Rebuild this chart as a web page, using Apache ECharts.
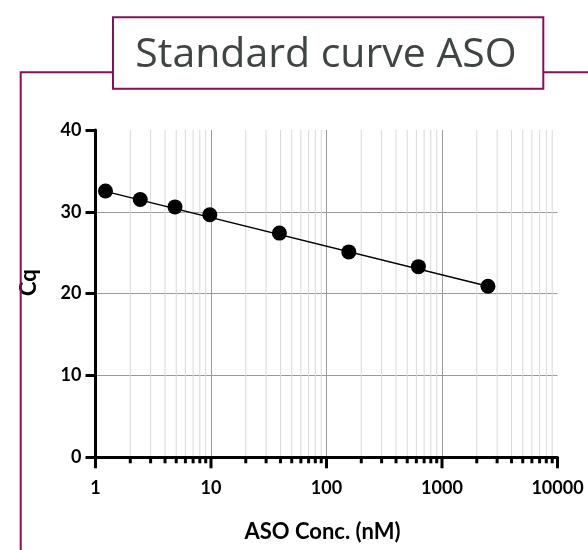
<!DOCTYPE html>
<html>
<head>
<meta charset="utf-8">
<script src="https://cdn.jsdelivr.net/npm/echarts@6/dist/echarts.min.js"></script>
<style>
  html, body { margin: 0; padding: 0; background: #fff; }
  #main { width: 588px; height: 550px; }
</style>
</head>
<body>
<div id="main"></div>
<script>
// ASO standard curve, Cq vs concentration (nM)
var conc = [1.22, 2.44, 4.88, 9.77, 39.1, 156, 625, 2500]
var cq = [32.55, 31.5, 30.6, 29.65, 27.4, 25.1, 23.3, 20.9]
// fitted line end points
var fitLine = [[1.22, 32.5], [2500, 20.9]]
// minor log ticks 2..9 per decade
var minorTicks = [2, 3, 4, 5, 6, 7, 8, 9, 20, 30, 40, 50, 60, 70, 80, 90,
  200, 300, 400, 500, 600, 700, 800, 900, 2000, 3000, 4000, 5000, 6000, 7000, 8000, 9000]
var majorTicks = [1, 10, 100, 1000, 10000]

var frameColor = '#8b0d57'
var labelFont = 'Lato'

var myChart = echarts.init(document.getElementById('main'))

var points = conc.map(function (c, i) { return [c, cq[i]] })

myChart.setOption({
  animation: false,
  grid: {
    left: 95.5,
    right: 30.5,
    top: 130,
    bottom: 92.7
  },
  xAxis: {
    type: 'log',
    logBase: 10,
    min: 1,
    max: 10000,
    name: 'ASO Conc. (nM)',
    nameLocation: 'middle',
    nameGap: 64,
    nameTextStyle: {
      color: '#000',
      fontFamily: labelFont,
      fontWeight: 'bold',
      fontSize: 22,
      padding: [0, 8, 0, 0]
    },
    axisLine: {
      lineStyle: { color: '#000', width: 3 }
    },
    axisTick: {
      show: false
    },
    axisLabel: {
      color: '#000',
      fontFamily: labelFont,
      fontWeight: 'bold',
      fontSize: 18,
      margin: 22,
      formatter: function (v) { return String(v) }
    },
    splitLine: {
      show: true,
      showMinLine: false,
      showMaxLine: false,
      lineStyle: { color: '#9a9a9a', width: 1 }
    }
  },
  yAxis: {
    type: 'value',
    min: 0,
    max: 40,
    interval: 10,
    name: 'Cq',
    nameLocation: 'middle',
    nameGap: 56,
    nameTextStyle: {
      color: '#000',
      fontFamily: labelFont,
      fontWeight: 'bold',
      fontSize: 22,
      padding: [0, 0, 0, 22]
    },
    axisLine: {
      show: true,
      lineStyle: { color: '#000', width: 3 }
    },
    axisTick: {
      show: true,
      inside: false,
      length: 10,
      lineStyle: { color: '#000', width: 3 }
    },
    axisLabel: {
      color: '#000',
      fontFamily: labelFont,
      fontWeight: 'bold',
      fontSize: 18,
      margin: 14
    },
    splitLine: {
      show: true,
      showMinLine: false,
      showMaxLine: false,
      lineStyle: { color: '#9a9a9a', width: 1 }
    }
  },
  graphic: [
    {
      type: 'polyline',
      shape: { points: [[20.7, 550], [20.7, 72.3], [113, 72.3]] },
      style: { stroke: frameColor, lineWidth: 2, fill: null },
      z: 10
    },
    {
      type: 'line',
      shape: { x1: 543.3, y1: 72.3, x2: 588, y2: 72.3 },
      style: { stroke: frameColor, lineWidth: 2 },
      z: 10
    },
    {
      type: 'rect',
      shape: { x: 113, y: 17.3, width: 430.3, height: 71.4 },
      style: { stroke: frameColor, lineWidth: 2, fill: '#fff' },
      z: 10
    },
    {
      type: 'text',
      x: 326,
      y: 55,
      style: {
        text: 'Standard curve ASO',
        fill: '#3f4544',
        font: '41px "Open Sans"',
        textAlign: 'center',
        textVerticalAlign: 'middle'
      },
      z: 11
    }
  ],
  series: [
    {
      // minor gridlines (2..9 per decade)
      type: 'custom',
      silent: true,
      z: 0,
      data: minorTicks,
      encode: { x: 0 },
      renderItem: function (params, api) {
        var v = api.value(0)
        var top = api.coord([v, 40])
        var bot = api.coord([v, 0])
        return {
          type: 'line',
          shape: { x1: top[0], y1: top[1], x2: bot[0], y2: bot[1] },
          style: { stroke: '#d9d9d9', lineWidth: 1 }
        }
      }
    },
    {
      // x ticks below the axis: long at decades, short in between
      type: 'custom',
      silent: true,
      clip: false,
      z: 5,
      data: majorTicks.map(function (v) { return [v, 1] }).concat(minorTicks.map(function (v) { return [v, 0] })),
      encode: { x: 0 },
      renderItem: function (params, api) {
        var v = api.value(0)
        var len = api.value(1) ? 11 : 6
        var bot = api.coord([v, 0])
        return {
          type: 'line',
          shape: { x1: bot[0], y1: bot[1], x2: bot[0], y2: bot[1] + len },
          style: { stroke: '#000', lineWidth: 3 }
        }
      }
    },
    {
      type: 'line',
      data: fitLine,
      symbol: 'none',
      lineStyle: { color: '#000', width: 1.5 },
      z: 3
    },
    {
      type: 'scatter',
      data: points,
      symbol: 'circle',
      symbolSize: 15,
      itemStyle: { color: '#000', opacity: 1 },
      z: 4
    }
  ]
})
</script>
</body>
</html>
